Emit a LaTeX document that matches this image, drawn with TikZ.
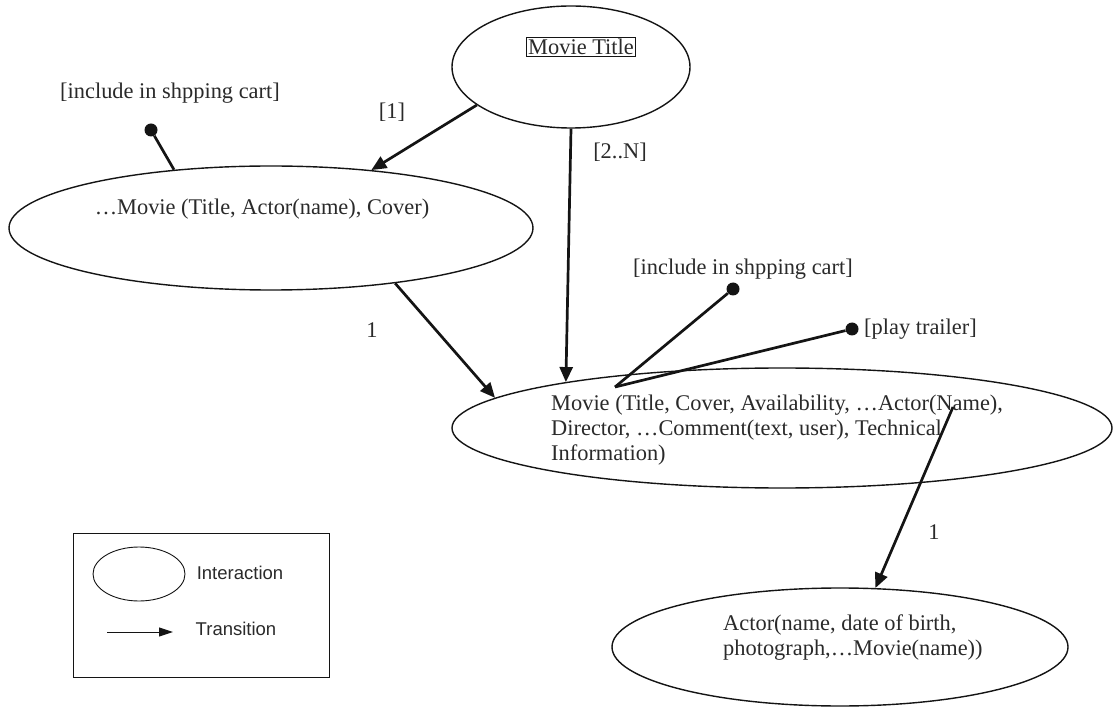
\documentclass[tikz,border=0pt]{standalone}
\usepackage{fontspec}
\setmainfont{Liberation Serif}
\newfontfamily\legendfont{Liberation Sans}
\usetikzlibrary{arrows.meta,shapes.geometric}
\definecolor{ink}{HTML}{141414}
\definecolor{txt}{HTML}{2A2A2A}
\begin{document}
\begin{tikzpicture}[x=1pt,y=-1pt,
  interaction/.style={draw=ink, line width=1.4pt, ellipse, inner sep=0pt},
  lbl/.style={font=\fontsize{22.4}{25}\selectfont, text=txt, inner sep=0pt},
  leglbl/.style={font=\legendfont\fontsize{18.5}{21}\selectfont, text=txt, inner sep=0pt},
  trans/.style={draw=ink, line width=2.7pt, -{Triangle[length=15pt,width=13pt]}},
  stem/.style={draw=ink, line width=2.7pt},
  hotspot/.style={circle, fill=ink, inner sep=0pt, minimum size=13pt},
  legarrow/.style={draw=ink, line width=1pt, -{Triangle[length=14pt,width=9pt]}}
]
\useasboundingbox (0,0) rectangle (1119,708);
\fill[white] (0,0) rectangle (1119,708);

% interaction ellipses
\node[interaction, minimum width=238pt, minimum height=122pt] (title) at (571,67) {};
\node[interaction, minimum width=524pt, minimum height=124pt] (left) at (271,228) {};
\node[interaction, minimum width=660pt, minimum height=120pt] (main) at (782,428) {};
\node[interaction, minimum width=456pt, minimum height=118pt] (actor) at (840,647) {};

% ellipse contents
\node[lbl, draw=ink, line width=1.3pt, inner sep=1.5pt] (mtitle) at (581,47) {Movie Title};
\node[lbl] (ltext) at (262,209) {\dots Movie (Title, Actor(name), Cover)};
\node[lbl, align=left, anchor=west] (mtext) at (551,430)
  {Movie (Title, Cover, Availability, \dots Actor(Name),\\
   Director, \dots Comment(text, user), Technical\\
   Information)};
\node[lbl, align=left, anchor=west] (atext) at (723,638)
  {Actor(name, date of birth,\\ photograph,\dots Movie(name))};

% hotspots
\node[hotspot] (ldot) at (151,130) {};
\node[hotspot] (dot1) at (733,289) {};
\node[hotspot] (dot2) at (852,329) {};
\coordinate (hub) at (615,387);
\coordinate (src) at (953,407);

\node[lbl] (lcart) at (170,93) {[include in shpping cart]};
\node[lbl] (rcart) at (743,269) {[include in shpping cart]};
\node[lbl, anchor=west] (trailer) at (864,329) {[play trailer]};

% transitions
\draw[trans] (title.202) -- (left.30);
\draw[trans] (title.south) -- (main.168);
\draw[trans] (left.-24) -- (main.174);
\draw[trans] (src) -- (actor.59);

\draw[stem] (left.149) -- (ldot);
\draw[stem] (hub) -- (dot1);
\draw[stem] (hub) -- (dot2);

% cardinalities
\node[lbl] (c1) at (392,112) {[1]};
\node[lbl] (c2) at (620,152) {[2..N]};
\node[lbl] (c3) at (372,330) {1};
\node[lbl] (c4) at (934,532) {1};

% legend
\node[draw=ink, line width=0.9pt, minimum width=256pt, minimum height=144pt, inner sep=0pt] (legend) at (201,605) {};
\node[draw=ink, line width=0.9pt, ellipse, inner sep=0pt, minimum width=92pt, minimum height=54pt] (legell) at (139,574) {};
\node[leglbl] (leginter) at (240,573) {Interaction};
\coordinate (la) at (107,632);
\coordinate (lb) at (173,632);
\draw[legarrow] (la) -- (lb);
\node[leglbl] (legtrans) at (236,629) {Transition};
\end{tikzpicture}
\end{document}
